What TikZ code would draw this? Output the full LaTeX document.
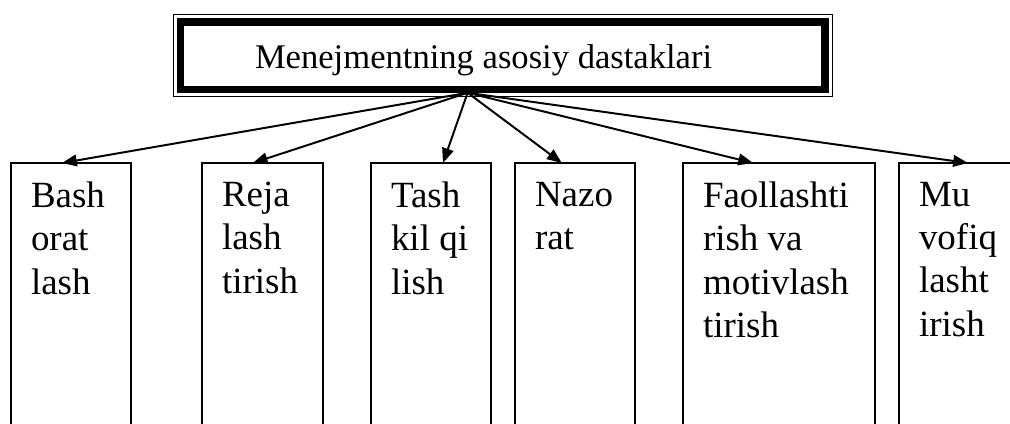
\documentclass[tikz,border=0pt]{standalone}
\usepackage{fontspec}
\setmainfont{Liberation Serif}
\usetikzlibrary{arrows.meta,calc}

\begin{document}
\begin{tikzpicture}[
  flow/.style={-{Triangle[length=3.7mm,width=2.9mm]},line width=1.4pt},
  heading/.style={draw,line width=5pt,outer sep=0pt,align=flush left,
    minimum height=1.68cm,inner xsep=1.86cm,text width=12.39cm,
    text height=8.2mm,text depth=1.9mm,
    font=\fontsize{24.6}{29}\selectfont},
  lever/.style={draw,line width=1.2pt,outer sep=0pt,anchor=north west,
    align=flush left,inner xsep=5mm,inner ysep=4.7mm,text depth=6cm,
    font=\fontsize{26.3}{30.9}\selectfont}
]
\useasboundingbox (0,0) rectangle (25.25,10.6);
\clip (0,0) rectangle (25.25,10.6);

% Heading with its double frame: thick inside, thin outside.
\node[heading] (levers) at (12.57,9.21) {Menejmentning asosiy dastaklari};
\draw[line width=1pt] ([shift={(-.18,-.18)}]levers.south west)
  rectangle ([shift={(.18,.18)}]levers.north east);
\coordinate (hub) at (11.69,8.28);

% The six levers hang open below the page edge.
\foreach \i/\x/\tw/\f/\txt in {
  1/0.275/2.0/.425/{Bash\\orat\\lash},
  2/5.05/2.025/.42/{Reja\\lash\\tirish},
  3/9.275/2.0/.6/{Tash\\kil qi\\lish},
  4/12.875/2.0/.39/{Nazo\\rat},
  5/17.075/3.8/.365/{Faollashti\\rish va\\motivlash\\tirish},
  6/22.475/2.025/.57/{Mu\\vofiq\\lasht\\irish}} {
  \node[lever,text width=\tw cm] (lever-\i) at (\x,6.525) {\txt};
  \draw[flow] (hub) -- ($(lever-\i.north west)!\f!(lever-\i.north east)$);
}
\end{tikzpicture}
\end{document}
